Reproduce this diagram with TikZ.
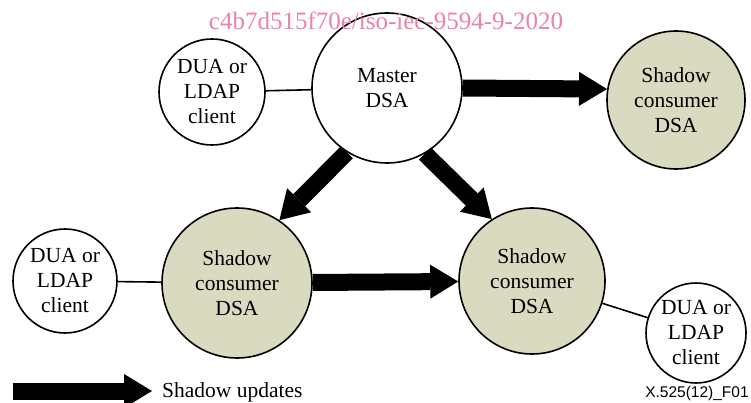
\documentclass[tikz,border=0pt]{standalone}
\usepackage{fontspec}
\setmainfont{Liberation Serif}
\newfontfamily\idfont{Liberation Sans}
\usetikzlibrary{arrows.meta}
\definecolor{shadowfill}{RGB}{218,218,192}
\definecolor{markpink}{RGB}{238,130,162}

\begin{document}
\begin{tikzpicture}[
        x=1pt, y=-1pt,
        every node/.style={font=\rmfamily\fontsize{21.5}{25}\selectfont},
        dsa/.style={circle,draw,line width=1.6pt,inner sep=0pt,align=center},
        shadow/.style={dsa,fill=shadowfill,minimum size=146pt},
        dua/.style={dsa,fill=white,minimum size=104pt},
        update/.style={line width=17pt,-{Triangle[length=28pt,width=34pt,line width=0pt]}},
        link/.style={line width=1.6pt},
        ]
        \useasboundingbox (0,0) rectangle (751,403);

        \node[dsa,fill=white,minimum size=150pt](master) at (387,88){Master\\DSA};
        \node[shadow,minimum size=138pt](sh_top) at (676,100){Shadow\\consumer\\DSA};
        \node[shadow,minimum size=150pt](sh_left) at (237,283){Shadow\\consumer\\DSA};
        \node[shadow](sh_right) at (532,281){Shadow\\consumer\\DSA};

        \node[dua,minimum size=106pt](dua_top) at (212,92){DUA or\\LDAP\\client};
        \node[dua](dua_left) at (65,281){DUA or\\LDAP\\client};
        \node[dua,minimum size=100pt](dua_right) at (696,333){DUA or\\LDAP\\client};

        \draw[link] (dua_top) -- (master);
        \draw[link] (dua_left) -- (sh_left);
        \draw[link] (sh_right) -- (dua_right);

        \draw[update] (master.east) -- (sh_top.171);
        \draw[update] (master.238) -- (sh_left.56);
        \draw[update] (master.300) -- (sh_right.123);
        \draw[update] (sh_left) -- (sh_right);

        % legend
        \coordinate (leg_start) at (13,391);
        \coordinate (leg_end) at (152,391);
        \draw[update] (leg_start) -- (leg_end);
        \node[anchor=west,inner sep=0pt](leg_text) at (162,392){Shadow updates};

        \node[font=\idfont\fontsize{15.5}{18}\selectfont,inner sep=0pt](fig_id) at (697,393){X.525(12)\_F01};

        % watermark over the drawing
        \node[text=markpink,font=\rmfamily\fontsize{25}{30}\selectfont](mark) at (386,21){c4b7d515f70e/iso-iec-9594-9-2020};
\end{tikzpicture}
\end{document}
